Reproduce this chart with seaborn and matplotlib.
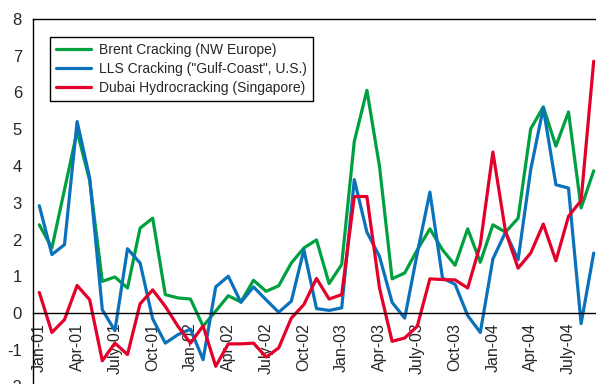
import pandas as pd
import matplotlib.pyplot as plt
import seaborn as sns

# Margen de refinación por mes (Jan-01 ... Sep-04)
meses = pd.date_range("2001-01-01", periods=45, freq="MS")

brent = [2.40, 1.77, 3.36, 4.94, 3.60, 0.86, 0.98, 0.68, 2.31, 2.58, 0.50, 0.41,
         0.38, -0.36, 0.05, 0.47, 0.30, 0.89, 0.59, 0.74, 1.36, 1.77, 1.99, 0.80,
         1.32, 4.67, 6.06, 3.99, 0.93, 1.09, 1.72, 2.29, 1.72, 1.30, 2.29, 1.38,
         2.40, 2.20, 2.58, 5.01, 5.61, 4.54, 5.47, 2.86, 3.87]

lls = [2.92, 1.59, 1.86, 5.21, 3.67, 0.09, -0.48, 1.75, 1.36, -0.16, -0.82, -0.59,
       -0.44, -1.27, 0.71, 1.00, 0.29, 0.71, 0.36, 0.02, 0.32, 1.72, 0.12, 0.07,
       0.14, 3.63, 2.20, 1.54, 0.29, -0.14, 1.63, 3.29, 0.95, 0.78, -0.07, -0.53,
       1.47, 2.20, 1.45, 3.90, 5.58, 3.49, 3.40, -0.29, 1.63]

dubai = [0.56, -0.53, -0.18, 0.75, 0.36, -1.30, -0.82, -1.13, 0.25, 0.63, 0.18, -0.36,
         -0.82, -0.35, -1.45, -0.84, -0.84, -0.82, -1.20, -0.95, -0.14, 0.23, 0.94, 0.38,
         0.50, 3.17, 3.17, 0.68, -0.77, -0.68, -0.36, 0.93, 0.91, 0.90, 0.68, 1.86,
         4.38, 2.22, 1.22, 1.63, 2.42, 1.42, 2.63, 3.06, 6.85]

series = ["Brent Cracking (NW Europe)",
          "LLS Cracking (\"Gulf-Coast\", U.S.)",
          "Dubai Hydrocracking (Singapore)"]
colores = ["#00A040", "#0A72BA", "#E3002B"]

etiquetas_x = ["Jan-01", "Apr-01", "July-01", "Oct-01",
               "Jan-02", "Apr-02", "July-02", "Oct-02",
               "Jan-03", "Apr-03", "July-03", "Oct-03",
               "Jan-04", "Apr-04", "July-04"]

# estilo
sns.set_style("white")
plt.rcParams["font.family"] = ["Liberation Sans", "DejaVu Sans"]
plt.rcParams["axes.unicode_minus"] = False

n = len(meses)
df = pd.DataFrame({
    "mes": list(range(n)) * 3,
    "valor": brent + lls + dubai,
    "serie": [series[0]] * n + [series[1]] * n + [series[2]] * n,
})

fig = plt.figure(figsize=(5.96, 3.84), dpi=100)
ax = fig.add_axes([33 / 596, -2.5 / 384, 567 / 596, 367.5 / 384])

sns.lineplot(data=df, x="mes", y="valor", hue="serie", hue_order=series,
             palette=colores, linewidth=2.3, ax=ax)

ax.set_xlim(-0.5, n - 0.5)
ax.set_ylim(-2, 8)
ax.set_xlabel("")
ax.set_ylabel("")

# eje x cruzando en cero
ax.spines["bottom"].set_position(("data", 0))
for lado in ["left", "top", "bottom", "right"]:
    ax.spines[lado].set_color("black")
    ax.spines[lado].set_linewidth(1.0)

ax.set_xticks(range(0, n, 3))
ax.set_xticklabels(etiquetas_x, rotation=90, fontsize=11.5)
ax.set_xticks([i - 0.5 for i in range(n + 1)], minor=True)
ax.tick_params(axis="x", which="major", length=0, pad=7)
ax.tick_params(axis="x", which="minor", direction="in", length=3, width=1, color="black")

ax.set_yticks(range(-2, 9))
ax.tick_params(axis="y", length=0, pad=8, labelsize=12)

leg = ax.legend(loc="upper left", bbox_to_anchor=(17 / 567, (386.5 - 37) / 367.5),
                borderaxespad=0, frameon=True, fancybox=False, edgecolor="black",
                framealpha=1, fontsize=10, handlelength=2.5, handletextpad=0.6,
                labelspacing=0.35, borderpad=0.45)
leg.get_frame().set_linewidth(1.0)

plt.savefig("out.png", dpi=100)
plt.close()
